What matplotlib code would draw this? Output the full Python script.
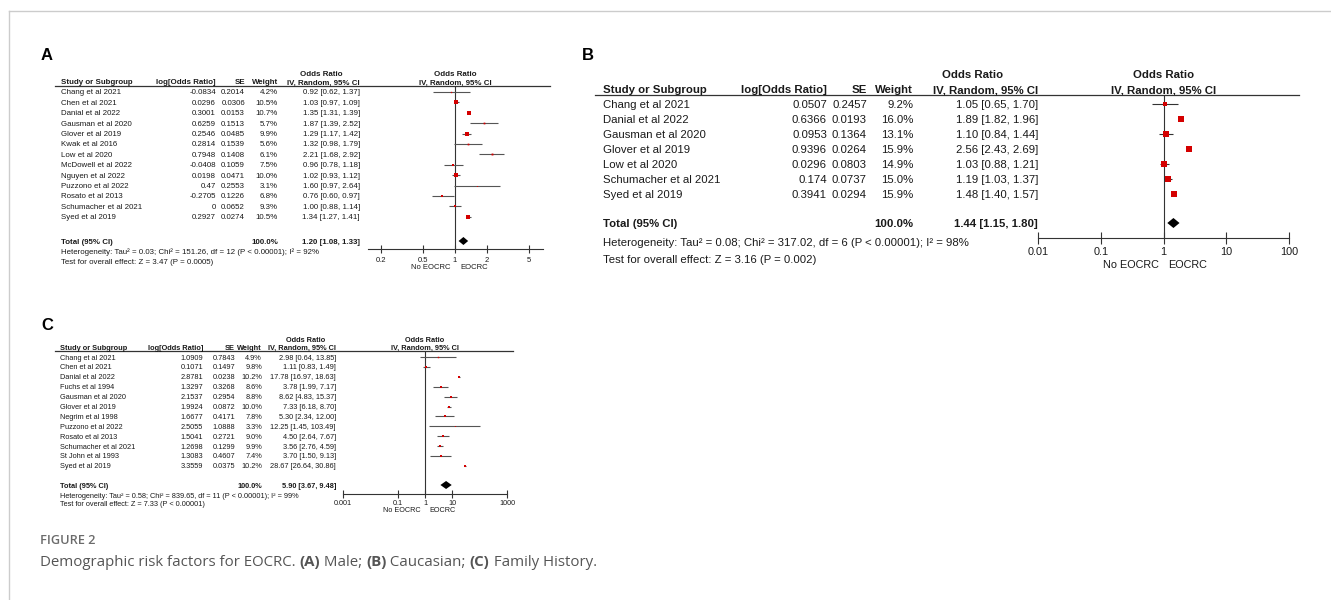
import matplotlib
matplotlib.use('Agg')
import matplotlib.pyplot as plt
from matplotlib.lines import Line2D
from matplotlib.ticker import NullLocator
from matplotlib.transforms import blended_transform_factory

W, H = 1331, 600
FONT = 'Liberation Sans'
TXT = '#1a1a1a'
RED = '#d40000'

# ---------------- panel A: Male ----------------
a_studies = ['Chang et al 2021', 'Chen et al 2021', 'Danial et al 2022', 'Gausman et al 2020',
             'Glover et al 2019', 'Kwak et al 2016', 'Low et al 2020', 'McDowell et al 2022',
             'Nguyen et al 2022', 'Puzzono et al 2022', 'Rosato et al 2013',
             'Schumacher et al 2021', 'Syed et al 2019']
a_log_or = [-0.0834, 0.0296, 0.3001, 0.6259, 0.2546, 0.2814, 0.7948, -0.0408, 0.0198, 0.47, -0.2705, 0, 0.2927]
a_se = [0.2014, 0.0306, 0.0153, 0.1513, 0.0485, 0.1539, 0.1408, 0.1059, 0.0471, 0.2553, 0.1226, 0.0652, 0.0274]
a_weight = [4.2, 10.5, 10.7, 5.7, 9.9, 5.6, 6.1, 7.5, 10.0, 3.1, 6.8, 9.3, 10.5]
a_or = [0.92, 1.03, 1.35, 1.87, 1.29, 1.32, 2.21, 0.96, 1.02, 1.60, 0.76, 1.00, 1.34]
a_lo = [0.62, 0.97, 1.31, 1.39, 1.17, 0.98, 1.68, 0.78, 0.93, 0.97, 0.60, 0.88, 1.27]
a_hi = [1.37, 1.09, 1.39, 2.52, 1.42, 1.79, 2.92, 1.18, 1.12, 2.64, 0.97, 1.14, 1.41]
a_total = [1.20, 1.08, 1.33]
a_het = 'Heterogeneity: Tau² = 0.03; Chi² = 151.26, df = 12 (P < 0.00001); I² = 92%'
a_test = 'Test for overall effect: Z = 3.47 (P = 0.0005)'
a_ticks = [0.2, 0.5, 1, 2, 5]
a_tick_labels = ['0.2', '0.5', '1', '2', '5']

# ---------------- panel B: Caucasian ----------------
b_studies = ['Chang et al 2021', 'Danial et al 2022', 'Gausman et al 2020', 'Glover et al 2019',
             'Low et al 2020', 'Schumacher et al 2021', 'Syed et al 2019']
b_log_or = [0.0507, 0.6366, 0.0953, 0.9396, 0.0296, 0.174, 0.3941]
b_se = [0.2457, 0.0193, 0.1364, 0.0264, 0.0803, 0.0737, 0.0294]
b_weight = [9.2, 16.0, 13.1, 15.9, 14.9, 15.0, 15.9]
b_or = [1.05, 1.89, 1.10, 2.56, 1.03, 1.19, 1.48]
b_lo = [0.65, 1.82, 0.84, 2.43, 0.88, 1.03, 1.40]
b_hi = [1.70, 1.96, 1.44, 2.69, 1.21, 1.37, 1.57]
b_total = [1.44, 1.15, 1.80]
b_het = 'Heterogeneity: Tau² = 0.08; Chi² = 317.02, df = 6 (P < 0.00001); I² = 98%'
b_test = 'Test for overall effect: Z = 3.16 (P = 0.002)'
b_ticks = [0.01, 0.1, 1, 10, 100]
b_tick_labels = ['0.01', '0.1', '1', '10', '100']

# ---------------- panel C: Family history ----------------
c_studies = ['Chang et al 2021', 'Chen et al 2021', 'Danial et al 2022', 'Fuchs et al 1994',
             'Gausman et al 2020', 'Glover et al 2019', 'Negrim et al 1998', 'Puzzono et al 2022',
             'Rosato et al 2013', 'Schumacher et al 2021', 'St John et al 1993', 'Syed et al 2019']
c_log_or = [1.0909, 0.1071, 2.8781, 1.3297, 2.1537, 1.9924, 1.6677, 2.5055, 1.5041, 1.2698, 1.3083, 3.3559]
c_se = [0.7843, 0.1497, 0.0238, 0.3268, 0.2954, 0.0872, 0.4171, 1.0888, 0.2721, 0.1299, 0.4607, 0.0375]
c_weight = [4.9, 9.8, 10.2, 8.6, 8.8, 10.0, 7.8, 3.3, 9.0, 9.9, 7.4, 10.2]
c_or = [2.98, 1.11, 17.78, 3.78, 8.62, 7.33, 5.30, 12.25, 4.50, 3.56, 3.70, 28.67]
c_lo = [0.64, 0.83, 16.97, 1.99, 4.83, 6.18, 2.34, 1.45, 2.64, 2.76, 1.50, 26.64]
c_hi = [13.85, 1.49, 18.63, 7.17, 15.37, 8.70, 12.00, 103.49, 7.67, 4.59, 9.13, 30.86]
c_total = [5.90, 3.67, 9.48]
c_het = 'Heterogeneity: Tau² = 0.58; Chi² = 839.65, df = 11 (P < 0.00001); I² = 99%'
c_test = 'Test for overall effect: Z = 7.33 (P < 0.00001)'
c_ticks = [0.001, 0.1, 1, 10, 1000]
c_tick_labels = ['0.001', '0.1', '1', '10', '1000']

caption_parts = [('Demographic risk factors for EOCRC. ', 'normal'), ('(A)', 'bold'), (' Male; ', 'normal'),
                 ('(B)', 'bold'), (' Caucasian; ', 'normal'), ('(C)', 'bold'), (' Family History.', 'normal')]

# layout in pixels of the 1331x600 picture
lay_a = dict(label='A', label_xy=(41, 55), left=61, col_log=216, col_se=245, col_w=278, col_ci=360,
             or_x=321, head1_y=75, line_y=86, line_x=(55, 550), row0=93, dy=10.4,
             total_y=242, het_y=252, test_y=262, ax_x=(368, 543), xlim=(0.151, 6.76),
             fs=5.7, tick_fs=5.5, ms=0.22, dia=4, ci_col='#555555', tick_len=6, pad=2.4, sub_off=13)
lay_b = dict(label='B', label_xy=(582, 55), left=603, col_log=827, col_se=867, col_w=913, col_ci=1038,
             or_x=973, head1_y=75, line_y=95, line_x=(595, 1299), row0=105, dy=15,
             total_y=224, het_y=243, test_y=260, ax_x=(1038, 1289), xlim=(0.01, 100),
             fs=8.2, tick_fs=7.8, ms=0.31, dia=5, ci_col='#333333', tick_len=8, pad=2.4, sub_off=19)
lay_c = dict(label='C', label_xy=(41, 325), left=60, col_log=203, col_se=235, col_w=262, col_ci=336,
             or_x=306, head1_y=340, line_y=351, line_x=(55, 513), row0=358, dy=9.9,
             total_y=486, het_y=496, test_y=505, ax_x=(343, 507), xlim=(0.001, 1000),
             fs=5.3, tick_fs=5.2, ms=0.21, dia=4, ci_col='#555555', tick_len=6, pad=1.8, sub_off=12)


def fx(x):
    return x / W


def fy(y):
    return 1 - y / H


def draw_panel(fig, lay, studies, log_or, se, weight, odds, lo, hi, total, het, test, ticks, tick_labels):
    st = dict(family=FONT, color=TXT, fontsize=lay['fs'])
    axis_y = lay['total_y'] + (lay['het_y'] - lay['total_y']) * 0.75
    top, bottom = lay['line_y'], axis_y
    ax = fig.add_axes([fx(lay['ax_x'][0]), fy(bottom), (lay['ax_x'][1] - lay['ax_x'][0]) / W, (bottom - top) / H])
    ax.set_xscale('log')
    ax.set_xlim(*lay['xlim'])
    ax.set_ylim(bottom, top)
    ax.patch.set_alpha(0)
    for s in ['top', 'left', 'right']:
        ax.spines[s].set_visible(False)
    ax.spines['bottom'].set_color('#333333')
    ax.spines['bottom'].set_linewidth(0.8)
    ax.set_yticks([])
    ax.set_xticks(ticks)
    ax.set_xticklabels(tick_labels, family=FONT, color=TXT)
    ax.xaxis.set_minor_locator(NullLocator())
    ax.tick_params(axis='x', direction='inout', length=lay['tick_len'], width=0.8, color='#333333',
                   labelsize=lay['tick_fs'], pad=lay['pad'])
    ax.axvline(1, color='#333333', lw=0.8)

    mix = blended_transform_factory(ax.transData, fig.transFigure)

    # panel letter
    fig.text(fx(lay['label_xy'][0]), fy(lay['label_xy'][1]), lay['label'], family=FONT, fontsize=12,
             weight='bold', color='black', va='center', ha='left')

    # headers
    fig.text(fx(lay['or_x']), fy(lay['head1_y']), 'Odds Ratio', ha='center', va='center', weight='bold', **st)
    ax.text(1, fy(lay['head1_y']), 'Odds Ratio', transform=mix, ha='center', va='center', weight='bold', **st)
    hy = fy(lay['line_y'] - 1.5)
    fig.text(fx(lay['left']), hy, 'Study or Subgroup', ha='left', va='baseline', weight='bold', **st)
    fig.text(fx(lay['col_log']), hy, 'log[Odds Ratio]', ha='right', va='baseline', weight='bold', **st)
    fig.text(fx(lay['col_se']), hy, 'SE', ha='right', va='baseline', weight='bold', **st)
    fig.text(fx(lay['col_w']), hy, 'Weight', ha='right', va='baseline', weight='bold', **st)
    fig.text(fx(lay['col_ci']), hy, 'IV, Random, 95% CI', ha='right', va='baseline', weight='bold', **st)
    ax.text(1, hy, 'IV, Random, 95% CI', transform=mix, ha='center', va='baseline', weight='bold', **st)
    fig.add_artist(Line2D([fx(lay['line_x'][0]), fx(lay['line_x'][1])], [fy(lay['line_y'])] * 2,
                          color='#333333', lw=0.9))

    # study rows
    for i, name in enumerate(studies):
        y = lay['row0'] + i * lay['dy']
        fig.text(fx(lay['left']), fy(y), name, ha='left', va='center', **st)
        fig.text(fx(lay['col_log']), fy(y), f'{log_or[i]:g}', ha='right', va='center', **st)
        fig.text(fx(lay['col_se']), fy(y), f'{se[i]:g}', ha='right', va='center', **st)
        fig.text(fx(lay['col_w']), fy(y), f'{weight[i]:.1f}%', ha='right', va='center', **st)
        fig.text(fx(lay['col_ci']), fy(y), f'{odds[i]:.2f} [{lo[i]:.2f}, {hi[i]:.2f}]', ha='right', va='center', **st)
        ax.plot([lo[i], hi[i]], [y - 1, y - 1], color=lay['ci_col'], lw=0.8, solid_capstyle='butt')
        ax.plot([odds[i]], [y - 1], marker='s', color=RED, ms=weight[i] * lay['ms'], mew=0, ls='none')

    # total row
    ty = lay['total_y']
    fig.text(fx(lay['left']), fy(ty), 'Total (95% CI)', ha='left', va='center', weight='bold', **st)
    fig.text(fx(lay['col_w']), fy(ty), '100.0%', ha='right', va='center', weight='bold', **st)
    fig.text(fx(lay['col_ci']), fy(ty), f'{total[0]:.2f} [{total[1]:.2f}, {total[2]:.2f}]',
             ha='right', va='center', weight='bold', **st)
    d = lay['dia']
    ax.fill([total[1], total[0], total[2], total[0]], [ty - 1, ty - 1 - d, ty - 1, ty - 1 + d],
            color='black', lw=0)
    fig.text(fx(lay['left']), fy(lay['het_y']), het, ha='left', va='center', **st)
    fig.text(fx(lay['left']), fy(lay['test_y']), test, ha='left', va='center', **st)

    ax.annotate('No EOCRC', xy=(1, 0), xycoords=('data', 'axes fraction'), xytext=(-3.5, -lay['sub_off']),
                textcoords='offset points', ha='right', va='center', family=FONT, color=TXT,
                fontsize=lay['tick_fs'])
    ax.annotate('EOCRC', xy=(1, 0), xycoords=('data', 'axes fraction'), xytext=(3.5, -lay['sub_off']),
                textcoords='offset points', ha='left', va='center', family=FONT, color=TXT,
                fontsize=lay['tick_fs'])
    return ax


fig = plt.figure(figsize=(W / 100, H / 100), dpi=100)
fig.patch.set_facecolor('white')

# light frame of the figure box
fig.add_artist(Line2D([fx(9), fx(9)], [0, fy(11)], color='#cccccc', lw=1))
fig.add_artist(Line2D([fx(9), 1], [fy(11), fy(11)], color='#cccccc', lw=1))

draw_panel(fig, lay_a, a_studies, a_log_or, a_se, a_weight, a_or, a_lo, a_hi, a_total, a_het, a_test,
           a_ticks, a_tick_labels)
draw_panel(fig, lay_b, b_studies, b_log_or, b_se, b_weight, b_or, b_lo, b_hi, b_total, b_het, b_test,
           b_ticks, b_tick_labels)
draw_panel(fig, lay_c, c_studies, c_log_or, c_se, c_weight, c_or, c_lo, c_hi, c_total, c_het, c_test,
           c_ticks, c_tick_labels)

# caption
fig.text(fx(40), fy(541), 'FIGURE 2', family='Open Sans', weight='semibold', fontsize=9.2,
         color='#6b6b6b', va='center', ha='left')
renderer = fig.canvas.get_renderer()
x = 40
for txt, wt in caption_parts:
    t = fig.text(fx(x), fy(562), txt, family='Open Sans', weight=wt, fontsize=10.8,
                 color='#555555', va='center', ha='left')
    x += t.get_window_extent(renderer).width

fig.savefig('out.png', dpi=100)
